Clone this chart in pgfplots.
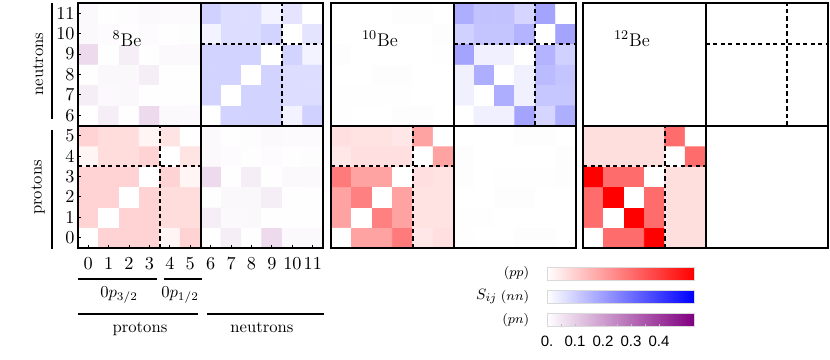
\documentclass[border=0pt]{standalone}
\usepackage{pgfplots}
\pgfplotsset{compat=1.18}
\usepackage{fontspec}
\newfontfamily\cbfont{Liberation Sans}
\pgfplotsset{
 colormap={pnmap}{rgb255=(255,255,255) rgb255=(128,0,128)},
 colormap={nnmap}{rgb255=(255,255,255) rgb255=(0,0,255)},
 colormap={ppmap}{rgb255=(255,255,255) rgb255=(255,0,0)},
 panel/.style={
   scale only axis, width=147pt, height=147pt, anchor=south west,
   xmin=-0.5, xmax=11.5, ymin=-0.5, ymax=11.5,
   axis on top, axis line style={line width=1.1pt},
   point meta min=0, point meta max=0.525,
   xtick=\empty, ytick=\empty,
 },
 blk/.style={matrix plot*, mesh/cols=6, point meta=explicit},
 cbar/.style={
   scale only axis, width=88.2pt, height=7.8pt, anchor=south west,
   xmin=0, xmax=0.525, ymin=0, ymax=1, xtick=\empty, ytick=\empty,
   axis line style={draw=black!15, line width=0.4pt},
 },
}
\newcommand\divlines{%
  \draw[line width=1.2pt] (axis cs:5.5,-0.5) -- (axis cs:5.5,11.5);
  \draw[line width=1.2pt] (axis cs:-0.5,5.5) -- (axis cs:11.5,5.5);
  \draw[line width=1.2pt, dash pattern=on 2.6pt off 1.9pt] (axis cs:3.5,-0.5) -- (axis cs:3.5,5.5);
  \draw[line width=1.2pt, dash pattern=on 2.6pt off 1.9pt] (axis cs:-0.5,3.5) -- (axis cs:5.5,3.5);
  \draw[line width=1.2pt, dash pattern=on 2.6pt off 1.9pt] (axis cs:9.5,5.5) -- (axis cs:9.5,11.5);
  \draw[line width=1.2pt, dash pattern=on 2.6pt off 1.9pt] (axis cs:5.5,9.5) -- (axis cs:11.5,9.5);
}
\begin{document}
\begin{tikzpicture}
\useasboundingbox (0,0) rectangle (498pt,215.4pt);
% ---------------- 8Be ----------------
\begin{axis}[panel, at={(46.8pt,66.6pt)},
  xtick={0,...,11}, ytick={0,...,11}, tick pos=left, tick align=inside,
  major tick length=2pt, tick style={line width=0.6pt, black},
  ticklabel style={font=\fontsize{10.5}{12}\selectfont},
  xticklabel style={yshift=-2.5pt}, yticklabel style={xshift=1.5pt}]
\addplot[blk, colormap name=ppmap] coordinates {
(0,0)[0] (1,0)[0.09] (2,0)[0.09] (3,0)[0.09] (4,0)[0.02] (5,0)[0.09]
(0,1)[0.09] (1,1)[0] (2,1)[0.09] (3,1)[0.09] (4,1)[0.07] (5,1)[0.07]
(0,2)[0.09] (1,2)[0.09] (2,2)[0] (3,2)[0.09] (4,2)[0.07] (5,2)[0.07]
(0,3)[0.09] (1,3)[0.09] (2,3)[0.09] (3,3)[0] (4,3)[0.09] (5,3)[0.02]
(0,4)[0.02] (1,4)[0.07] (2,4)[0.07] (3,4)[0.09] (4,4)[0] (5,4)[0.055]
(0,5)[0.09] (1,5)[0.07] (2,5)[0.07] (3,5)[0.02] (4,5)[0.055] (5,5)[0]
};
\addplot[blk, colormap name=nnmap] coordinates {
(6,6)[0] (7,6)[0.09] (8,6)[0.09] (9,6)[0.09] (10,6)[0.025] (11,6)[0.095]
(6,7)[0.09] (7,7)[0] (8,7)[0.09] (9,7)[0.09] (10,7)[0.07] (11,7)[0.07]
(6,8)[0.09] (7,8)[0.09] (8,8)[0] (9,8)[0.09] (10,8)[0.07] (11,8)[0.07]
(6,9)[0.09] (7,9)[0.09] (8,9)[0.09] (9,9)[0] (10,9)[0.09] (11,9)[0.025]
(6,10)[0.025] (7,10)[0.07] (8,10)[0.07] (9,10)[0.09] (10,10)[0] (11,10)[0.055]
(6,11)[0.095] (7,11)[0.07] (8,11)[0.07] (9,11)[0.025] (10,11)[0.055] (11,11)[0]
};
\addplot[blk, colormap name=pnmap] coordinates {
(6,0)[0] (7,0)[0.035] (8,0)[0.003] (9,0)[0.075] (10,0)[0.012] (11,0)[0.012]
(6,1)[0.035] (7,1)[0.012] (8,1)[0.015] (9,1)[0.003] (10,1)[0.002] (11,1)[0.002]
(6,2)[0.003] (7,2)[0.015] (8,2)[0.015] (9,2)[0.035] (10,2)[0.002] (11,2)[0.002]
(6,3)[0.075] (7,3)[0.003] (8,3)[0.035] (9,3)[0.003] (10,3)[0.012] (11,3)[0.012]
(6,4)[0.012] (7,4)[0.008] (8,4)[0.003] (9,4)[0.008] (10,4)[0.002] (11,4)[0.004]
(6,5)[0.012] (7,5)[0.003] (8,5)[0.005] (9,5)[0.012] (10,5)[0.01] (11,5)[0.01]
};
\addplot[blk, colormap name=pnmap] coordinates {
(0,6)[0] (1,6)[0.035] (2,6)[0.003] (3,6)[0.075] (4,6)[0.012] (5,6)[0.012]
(0,7)[0.035] (1,7)[0.012] (2,7)[0.015] (3,7)[0.003] (4,7)[0.002] (5,7)[0.002]
(0,8)[0.003] (1,8)[0.015] (2,8)[0.015] (3,8)[0.035] (4,8)[0.002] (5,8)[0.002]
(0,9)[0.075] (1,9)[0.003] (2,9)[0.035] (3,9)[0.003] (4,9)[0.012] (5,9)[0.012]
(0,10)[0.012] (1,10)[0.008] (2,10)[0.003] (3,10)[0.008] (4,10)[0.002] (5,10)[0.004]
(0,11)[0.012] (1,11)[0.003] (2,11)[0.005] (3,11)[0.012] (4,11)[0.01] (5,11)[0.01]
};
\divlines
\node[font=\fontsize{11}{13}\selectfont] at (axis cs:1.9,9.75) {$^{8}$Be};
\end{axis}
% ---------------- 10Be ----------------
\begin{axis}[panel, at={(198.6pt,66.6pt)}]
\addplot[blk, colormap name=ppmap] coordinates {
(0,0)[0] (1,0)[0.19] (2,0)[0.19] (3,0)[0.27] (4,0)[0.05] (5,0)[0.065]
(0,1)[0.19] (1,1)[0] (2,1)[0.26] (3,1)[0.19] (4,1)[0.06] (5,1)[0.06]
(0,2)[0.19] (1,2)[0.26] (2,2)[0] (3,2)[0.19] (4,2)[0.06] (5,2)[0.06]
(0,3)[0.27] (1,3)[0.19] (2,3)[0.19] (3,3)[0] (4,3)[0.065] (5,3)[0.06]
(0,4)[0.05] (1,4)[0.065] (2,4)[0.065] (3,4)[0.065] (4,4)[0] (5,4)[0.19]
(0,5)[0.065] (1,5)[0.06] (2,5)[0.06] (3,5)[0.05] (4,5)[0.19] (5,5)[0]
};
\addplot[blk, colormap name=nnmap] coordinates {
(6,6)[0] (7,6)[0.03] (8,6)[0.03] (9,6)[0.185] (10,6)[0.085] (11,6)[0.165]
(6,7)[0.03] (7,7)[0] (8,7)[0.165] (9,7)[0.03] (10,7)[0.115] (11,7)[0.115]
(6,8)[0.03] (7,8)[0.165] (8,8)[0] (9,8)[0.03] (10,8)[0.14] (11,8)[0.12]
(6,9)[0.185] (7,9)[0.03] (8,9)[0.03] (9,9)[0] (10,9)[0.155] (11,9)[0.095]
(6,10)[0.095] (7,10)[0.12] (8,10)[0.12] (9,10)[0.155] (10,10)[0] (11,10)[0.185]
(6,11)[0.165] (7,11)[0.125] (8,11)[0.125] (9,11)[0.085] (10,11)[0.185] (11,11)[0]
};
\addplot[blk, colormap name=pnmap] coordinates {
(6,0)[0.002] (7,0)[0.001] (8,0)[0.001] (9,0)[0.004] (10,0)[0.004] (11,0)[0.001]
(6,1)[0.003] (7,1)[0.003] (8,1)[0.001] (9,1)[0.001] (10,1)[0.001] (11,1)[0.001]
(6,2)[0.001] (7,2)[0.001] (8,2)[0.004] (9,2)[0.004] (10,2)[0.001] (11,2)[0.001]
(6,3)[0.005] (7,3)[0.001] (8,3)[0.003] (9,3)[0.003] (10,3)[0.003] (11,3)[0.004]
(6,4)[0.004] (7,4)[0.001] (8,4)[0.001] (9,4)[0.001] (10,4)[0.001] (11,4)[0.004]
(6,5)[0.001] (7,5)[0.001] (8,5)[0.001] (9,5)[0.004] (10,5)[0.004] (11,5)[0.001]
};
\addplot[blk, colormap name=pnmap] coordinates {
(0,6)[0.002] (1,6)[0.001] (2,6)[0.001] (3,6)[0.004] (4,6)[0.004] (5,6)[0.001]
(0,7)[0.003] (1,7)[0.003] (2,7)[0.003] (3,7)[0.003] (4,7)[0.001] (5,7)[0.001]
(0,8)[0.001] (1,8)[0.001] (2,8)[0.004] (3,8)[0.004] (4,8)[0.001] (5,8)[0.001]
(0,9)[0.005] (1,9)[0.001] (2,9)[0.001] (3,9)[0.001] (4,9)[0.001] (5,9)[0.003]
(0,10)[0.001] (1,10)[0.001] (2,10)[0.001] (3,10)[0.001] (4,10)[0.001] (5,10)[0.004]
(0,11)[0.001] (1,11)[0.001] (2,11)[0.001] (3,11)[0.004] (4,11)[0.004] (5,11)[0.001]
};
\divlines
\node[font=\fontsize{11}{13}\selectfont] at (axis cs:1.9,9.75) {$^{10}$Be};
\end{axis}
% ---------------- 12Be ----------------
\begin{axis}[panel, at={(349.8pt,66.6pt)}]
\addplot[blk, colormap name=ppmap] coordinates {
(0,0)[0] (1,0)[0.30] (2,0)[0.30] (3,0)[0.525] (4,0)[0.068] (5,0)[0.068]
(0,1)[0.30] (1,1)[0] (2,1)[0.525] (3,1)[0.30] (4,1)[0.068] (5,1)[0.068]
(0,2)[0.30] (1,2)[0.525] (2,2)[0] (3,2)[0.30] (4,2)[0.068] (5,2)[0.068]
(0,3)[0.525] (1,3)[0.30] (2,3)[0.30] (3,3)[0] (4,3)[0.068] (5,3)[0.068]
(0,4)[0.068] (1,4)[0.068] (2,4)[0.068] (3,4)[0.068] (4,4)[0] (5,4)[0.30]
(0,5)[0.068] (1,5)[0.068] (2,5)[0.068] (3,5)[0.068] (4,5)[0.30] (5,5)[0]
};
\divlines
\node[font=\fontsize{11}{13}\selectfont] at (axis cs:1.9,9.75) {$^{12}$Be};
\end{axis}
% ---------------- colour bars ----------------
\begin{axis}[cbar, at={(328.2pt,47.4pt)}, axis background/.style={shade, left color=white, right color=red}]
\end{axis}
\begin{axis}[cbar, at={(328.2pt,33.6pt)}, axis background/.style={shade, left color=white, right color=blue}]
\end{axis}
\begin{axis}[cbar, at={(328.2pt,19.8pt)}, axis background/.style={shade, left color=white, right color={rgb,255:red,128;green,0;blue,128}},
  xtick={0,0.1,0.2,0.3,0.4}, xticklabels={0.,0.1,0.2,0.3,0.4},
  minor x tick num=1, tick pos=left, tick align=inside,
  major tick length=1.5pt, minor tick length=1pt, tick style={draw=black!25, line width=0.3pt},
  xticklabel style={font=\cbfont\fontsize{9}{10}\selectfont, yshift=-2.5pt}]
\end{axis}
\node[anchor=east, font=\fontsize{8.5}{10}\selectfont] at (321pt,51.4pt) {$(pp)$};
\node[anchor=east, font=\fontsize{8.5}{10}\selectfont] at (321pt,37.4pt) {$(nn)$};
\node[anchor=east, font=\fontsize{8.5}{10}\selectfont] at (321pt,23.6pt) {$(pn)$};
\node[font=\fontsize{9.5}{11}\selectfont] at (292pt,37.4pt) {$S_{ij}$};
% ---------------- side and bottom labels ----------------
\node[rotate=90] at (22.8pt,177pt) {neutrons};
\node[rotate=90] at (22.8pt,102.9pt) {protons};
\draw[line width=1.2pt] (31.2pt,213.6pt) -- (31.2pt,144pt);
\draw[line width=1.2pt] (31.2pt,137.4pt) -- (31.2pt,66pt);
\draw[line width=1.2pt] (46.8pt,48pt) -- (94.2pt,48pt);
\draw[line width=1.2pt] (98.4pt,48pt) -- (121.2pt,48pt);
\node[anchor=base] at (71.4pt,37.2pt) {$0p_{3/2}$};
\node[anchor=base] at (108pt,37.2pt) {$0p_{1/2}$};
\draw[line width=1.2pt] (46.8pt,27pt) -- (118.8pt,27pt);
\draw[line width=1.2pt] (124.2pt,27pt) -- (194.4pt,27pt);
\node[anchor=base] at (84pt,16.2pt) {protons};
\node[anchor=base] at (157.2pt,16.2pt) {neutrons};
\end{tikzpicture}
\end{document}
